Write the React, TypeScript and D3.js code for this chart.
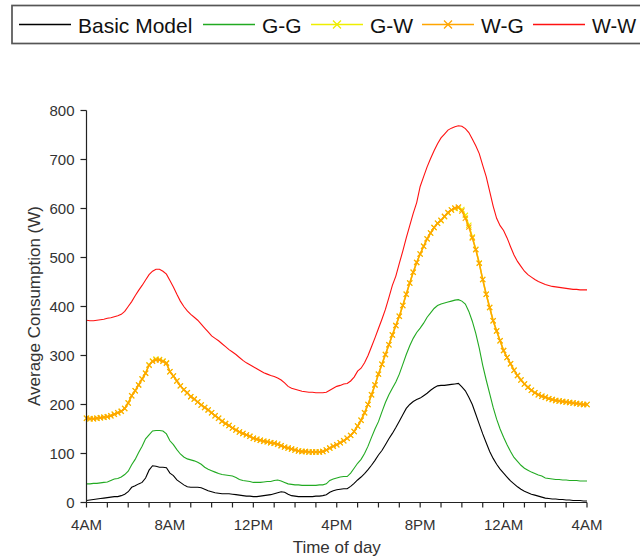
import React from 'react';
import * as d3 from 'd3';

// Time axis: 10-minute samples from 4AM to 4AM next day (hours since 4AM)
const hourTickLabels = ['4AM', '8AM', '12PM', '4PM', '8PM', '12AM', '4AM'];
const yTickValues = [0, 100, 200, 300, 400, 500, 600, 700, 800];
const seriesNames = ['Basic Model', 'G-G', 'G-W', 'W-G', 'W-W'];

const basicModel = [
  4, 5, 6, 7, 8, 9,
  10, 11, 12, 12, 14, 17,
  22, 31, 34, 38, 41, 50,
  66, 75, 74, 72, 72, 71,
  60, 55, 46, 41, 36, 32,
  31, 31, 31, 30, 27, 24,
  22, 20, 19, 18, 18, 18,
  17, 16, 15, 14, 13, 13,
  12, 12, 13, 14, 15, 16,
  18, 20, 22, 21, 17, 14,
  13, 12, 12, 12, 12, 12,
  13, 13, 14, 16, 21, 24,
  26, 27, 28, 28, 33, 39,
  46, 52, 59, 67, 76, 86,
  97, 106, 118, 130, 141, 153,
  166, 179, 192, 200, 206, 210,
  213, 218, 223, 229, 234, 238,
  239, 239, 240, 241, 242, 243,
  236, 228, 215, 200, 180, 160,
  140, 122, 104, 90, 78, 68,
  60, 52, 44, 38, 32, 27,
  23, 20, 17, 15, 13, 11,
  9, 8, 7, 7, 6, 6,
  5, 5, 4, 4, 4, 3,
  3,
];

const gg = [
  38, 38, 39, 39, 40, 41,
  42, 45, 48, 49, 52, 57,
  64, 77, 88, 102, 115, 130,
  138, 146, 147, 147, 146, 140,
  126, 118, 108, 99, 93, 89,
  87, 85, 82, 78, 72, 68,
  65, 62, 59, 57, 56, 55,
  54, 51, 47, 45, 44, 43,
  41, 41, 41, 42, 43, 43,
  45, 46, 44, 41, 38, 37,
  36, 36, 35, 35, 35, 35,
  35, 36, 36, 38, 45, 48,
  50, 52, 53, 53, 60, 70,
  80, 88, 100, 115, 133, 150,
  165, 185, 204, 220, 233, 246,
  262, 282, 302, 320, 335, 347,
  356, 366, 378, 387, 396, 402,
  405, 407, 409, 411, 413, 414,
  411, 405, 390, 370, 345, 315,
  280, 250, 222, 194, 170, 150,
  133, 118, 104, 92, 84, 76,
  70, 66, 62, 59, 56, 54,
  50, 49, 48, 47, 47, 46,
  46, 45, 45, 45, 44, 44,
  44,
];

const gw = [
  172, 171, 171, 172, 173, 174,
  175, 177, 180, 183, 186, 192,
  203, 218, 228, 240, 252, 264,
  281, 289, 293, 292, 289, 285,
  267, 258, 248, 238, 230, 224,
  216, 211, 205, 199, 194, 189,
  183, 177, 172, 166, 161, 157,
  152, 148, 144, 141, 138, 135,
  131, 129, 127, 125, 124, 122,
  121, 119, 116, 113, 111, 109,
  107, 105, 104, 104, 103, 103,
  103, 103, 104, 107, 111, 115,
  118, 122, 126, 131, 137, 145,
  156, 168, 183, 200, 220, 240,
  262, 282, 302, 322, 342, 361,
  380, 402, 425, 448, 470, 490,
  507, 523, 538, 550, 561, 570,
  575, 583, 591, 597, 600, 601,
  598, 586, 566, 542, 517, 489,
  455, 425, 398, 371, 350, 330,
  310, 296, 283, 270, 259, 250,
  242, 235, 229, 224, 220, 217,
  215, 212, 210, 208, 207, 206,
  205, 204, 203, 202, 201, 200,
  200,
];

const wg = [
  172, 171, 171, 172, 173, 174,
  175, 177, 180, 183, 186, 192,
  203, 218, 228, 240, 252, 264,
  280, 288, 291, 291, 288, 284,
  267, 258, 248, 238, 230, 224,
  216, 211, 205, 199, 194, 189,
  183, 177, 172, 166, 161, 157,
  152, 148, 144, 141, 138, 135,
  131, 129, 127, 125, 124, 122,
  121, 119, 116, 113, 111, 109,
  107, 105, 104, 104, 103, 103,
  103, 103, 104, 107, 111, 115,
  118, 122, 126, 131, 137, 145,
  156, 168, 183, 200, 220, 240,
  262, 282, 302, 322, 342, 361,
  380, 402, 425, 448, 470, 490,
  507, 523, 538, 550, 561, 570,
  576, 584, 592, 597, 601, 603,
  595, 580, 562, 540, 516, 488,
  455, 425, 398, 371, 350, 330,
  310, 296, 283, 270, 259, 250,
  242, 235, 229, 224, 220, 217,
  215, 212, 210, 208, 207, 206,
  205, 204, 203, 202, 201, 200,
  200,
];

const ww = [
  372, 371, 371, 372, 373, 374,
  376, 377, 379, 381, 384, 390,
  400, 410, 422, 433, 443, 454,
  465, 472, 476, 476, 472, 466,
  453, 440, 425, 411, 400, 391,
  384, 378, 372, 364, 356, 348,
  340, 335, 330, 324, 318, 312,
  307, 302, 296, 290, 285, 281,
  277, 273, 269, 265, 262, 259,
  257, 254, 250, 244, 237, 233,
  231, 229, 227, 226, 225, 225,
  224, 224, 224, 225, 229, 233,
  237, 239, 242, 243, 248, 256,
  268, 274, 285, 300, 318, 336,
  355, 374, 394, 418, 443, 462,
  488, 513, 540, 565, 590, 612,
  645, 665, 685, 702, 718, 732,
  744, 752, 760, 764, 767, 769,
  768, 763, 755, 742, 728, 712,
  688, 665, 635, 605, 580, 565,
  555, 540, 522, 505, 492, 482,
  472, 465, 460, 455, 451, 448,
  445, 443, 441, 440, 439, 438,
  437, 436, 435, 435, 434, 434,
  434,
];

const seriesColors = ['#000000', '#22aa22', '#eeee00', '#ffa500', '#ff1111'];

const W = 640;
const H = 558;
const X0 = 86.5;
const X1 = 587;
const Y0 = 502.5;
const Y1 = 110.5;

const FONT = 'Liberation Sans, Arial, Helvetica, sans-serif';

export default function App() {
  const x = d3.scaleLinear().domain([0, 24]).range([X0, X1]);
  const y = d3.scaleLinear().domain([0, 800]).range([Y0, Y1]);
  const all = [basicModel, gg, gw, wg, ww];
  const line = d3
    .line<number>()
    .x((_, i) => x(i / 6))
    .y((d) => y(d));

  const xMark = (cx: number, cy: number, r: number) =>
    `M${cx - r},${cy - r}L${cx + r},${cy + r}M${cx - r},${cy + r}L${cx + r},${cy - r}`;

  const hourTicks = d3.range(0, 25);
  const legendX = [19, 203, 311, 422, 533];

  return (
    <svg
      width={W}
      height={H}
      style={{ position: 'absolute', left: 0, top: 0, background: '#fff' }}
      fontFamily={FONT}
    >
      <rect x={0} y={0} width={W} height={H} fill="#fff" />
      {/* legend */}
      <rect x={12} y={5.5} width={650} height={38} fill="none" stroke="#555" strokeWidth={1.7} />
      {seriesNames.map((name, k) => {
        const lx = legendX[k];
        return (
          <g key={name}>
            <line x1={lx} x2={lx + 52} y1={24.5} y2={24.5} stroke={seriesColors[k]} strokeWidth={1.3} />
            {(k === 2 || k === 3) && (
              <path d={xMark(lx + 26, 24.5, 4)} stroke={seriesColors[k]} strokeWidth={1.3} fill="none" />
            )}
            <text
              x={lx + 59}
              y={33}
              fontSize={21}
              fill="#111"
              textLength={k === 4 ? 44 : undefined}
              lengthAdjust="spacingAndGlyphs"
            >
              {name}
            </text>
          </g>
        );
      })}

      {/* series */}
      {all.map((data, k) => (
        <g key={seriesNames[k]}>
          <path d={line(data) || ''} fill="none" stroke={seriesColors[k]} strokeWidth={k === 3 || k === 2 ? 1.5 : 1.1} />
          {(k === 2 || k === 3) &&
            data.map((v, i) => (
              <path key={i} d={xMark(x(i / 6), y(v), 2.6)} stroke={seriesColors[k]} strokeWidth={1.1} fill="none" />
            ))}
        </g>
      ))}

      {/* axes */}
      <line x1={X0} x2={X0} y1={Y1} y2={Y0} stroke="#222" strokeWidth={1.2} />
      <line x1={X0} x2={X1} y1={Y0} y2={Y0} stroke="#222" strokeWidth={1.2} />
      {yTickValues.map((v) => (
        <g key={v}>
          <line x1={X0 - 6} x2={X0} y1={y(v)} y2={y(v)} stroke="#222" strokeWidth={1.2} />
          <text x={X0 - 12} y={y(v) + 5} fontSize={15} textAnchor="end" fill="#333">
            {v}
          </text>
        </g>
      ))}
      {hourTicks.map((h) => (
        <line key={h} x1={x(h)} x2={x(h)} y1={Y0} y2={Y0 + 5} stroke="#222" strokeWidth={1.2} />
      ))}
      {hourTickLabels.map((lab, i) => (
        <text key={i} x={x(i * 4)} y={530} fontSize={15} textAnchor="middle" fill="#333">
          {lab}
        </text>
      ))}
      <text x={(X0 + X1) / 2} y={553} fontSize={17} textAnchor="middle" fill="#333">
        Time of day
      </text>
      <text
        transform={`translate(40,306) rotate(-90)`}
        fontSize={17}
        textAnchor="middle"
        fill="#333"
      >
        Average Consumption (W)
      </text>
    </svg>
  );
}
